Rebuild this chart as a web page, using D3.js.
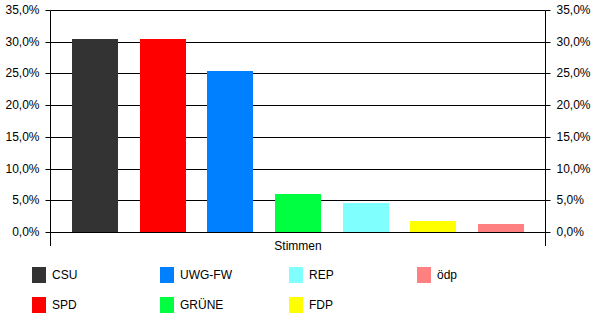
<!DOCTYPE html>
<html>
<head>
<meta charset="utf-8">
<script src="https://cdn.jsdelivr.net/npm/d3@7"></script>
<style>
  html, body { margin: 0; padding: 0; background: #fff; }
  svg { display: block; }
  text { font-family: "Liberation Sans", Arial, sans-serif; fill: #000; }
</style>
</head>
<body>
<svg id="chart" width="600" height="326"></svg>
<script>
const parties = ["CSU", "SPD", "UWG-FW", "GRÜNE", "REP", "FDP", "ödp"];
const values = [30.5, 30.5, 25.4, 6.0, 4.6, 1.8, 1.3];
const colors = ["#333333", "#ff0000", "#0080ff", "#00ff40", "#80ffff", "#ffff00", "#ff8080"];
const tickValues = [0, 5, 10, 15, 20, 25, 30, 35];
const categoryLabel = "Stimmen";
// legend order (column-major, two rows)
const legendOrder = ["CSU", "SPD", "UWG-FW", "GRÜNE", "REP", "FDP", "ödp"];

const svg = d3.select("#chart");
const mLeft = 50.5, mRight = 545.5, mTop = 10.5, mBottom = 232.5;

const x = d3.scaleBand().domain(parties).range([mLeft, mRight]).paddingInner(0.32).paddingOuter(0.32);
const y = d3.scaleLinear().domain([0, 35]).range([mBottom, mTop]);

const fmt = v => d3.format(".1f")(v).replace(".", ",") + "%";

// gridlines
svg.append("g").selectAll("line").data(tickValues).join("line")
  .attr("x1", mLeft).attr("x2", mRight)
  .attr("y1", d => Math.floor(y(d)) + 0.5).attr("y2", d => Math.floor(y(d)) + 0.5)
  .attr("stroke", "#000").attr("stroke-width", 1);

// bars
svg.append("g").selectAll("rect").data(parties).join("rect")
  .attr("x", d => Math.round(x(d)))
  .attr("width", Math.round(x.bandwidth()))
  .attr("y", (d, i) => Math.round(y(values[i])))
  .attr("height", (d, i) => Math.floor(mBottom) - Math.round(y(values[i])))
  .attr("fill", (d, i) => colors[i]);

const leftAxis = svg.append("g").attr("transform", `translate(${mLeft},0)`)
  .call(d3.axisLeft(y).tickValues(tickValues).tickFormat(fmt).tickSize(5).tickPadding(6));
const rightAxis = svg.append("g").attr("transform", `translate(${mRight},0)`)
  .call(d3.axisRight(y).tickValues(tickValues).tickFormat(fmt).tickSize(5).tickPadding(6));
[leftAxis, rightAxis].forEach(g => {
  g.select(".domain").remove();
  g.selectAll(".tick").attr("transform", d => `translate(0,${Math.floor(y(d)) + 0.5})`);
  g.selectAll(".tick line").attr("stroke", "#000");
  g.selectAll(".tick text").attr("font-size", 12).attr("font-family", "Liberation Sans, Arial, sans-serif").attr("fill", "#000");
});
// vertical axis lines extending below baseline
svg.append("line").attr("x1", mLeft).attr("x2", mLeft).attr("y1", mTop).attr("y2", 246).attr("stroke", "#000");
svg.append("line").attr("x1", mRight).attr("x2", mRight).attr("y1", mTop).attr("y2", 246).attr("stroke", "#000");

// category label
svg.append("text").attr("x", (mLeft + mRight) / 2).attr("y", 250)
  .attr("text-anchor", "middle").attr("font-size", 12).text(categoryLabel);

// legend
const colX = [32, 160, 289, 417];
const rowY = [267, 297];
const lg = svg.append("g").selectAll("g").data(legendOrder).join("g")
  .attr("transform", (d, i) => `translate(${colX[Math.floor(i / 2)]},${rowY[i % 2]})`);
lg.append("rect").attr("width", 14).attr("height", 16)
  .attr("fill", d => colors[parties.indexOf(d)]);
lg.append("text").attr("x", 20).attr("y", 8).attr("dy", "0.35em")
  .attr("font-size", 12).text(d => d);
</script>
</body>
</html>
